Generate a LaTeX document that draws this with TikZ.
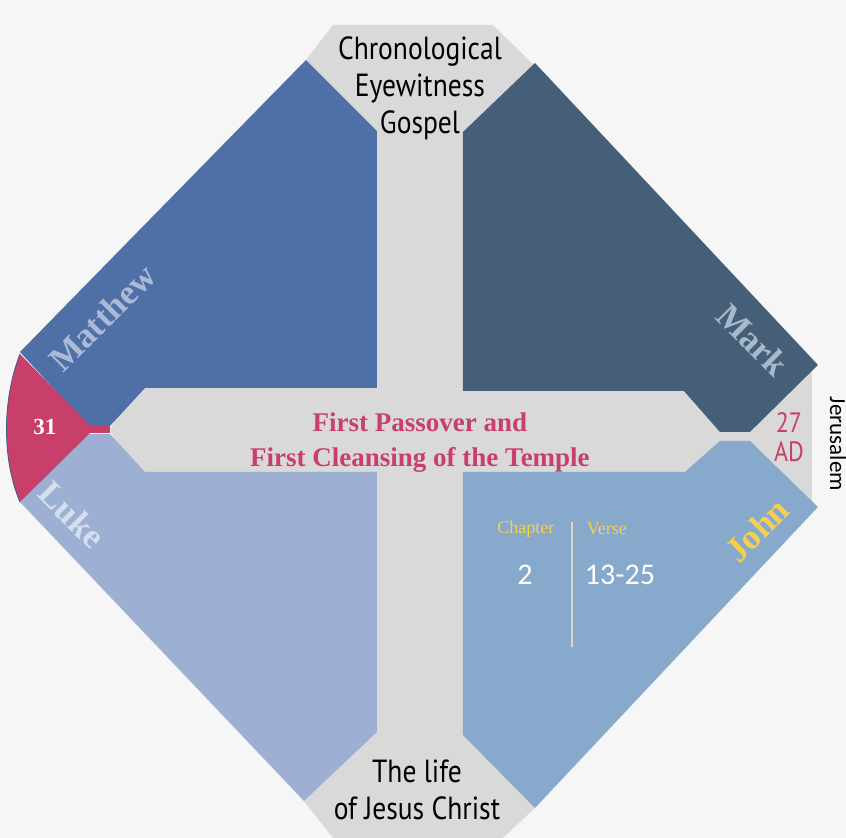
\documentclass[tikz,border=0pt]{standalone}
\usepackage{fontspec}
\usepackage{xcolor}
\usepackage{tikz}
\setmainfont{Liberation Serif}
\newfontfamily\condfont[FakeStretch=0.86]{PT Sans}
\newfontfamily\calfont{Carlito}
\definecolor{bgcol}{HTML}{F6F6F6}
\definecolor{crossgray}{HTML}{D9D9D9}
\definecolor{mattcol}{HTML}{4E70A6}
\definecolor{markcol}{HTML}{445F77}
\definecolor{lukecol}{HTML}{9DB0D4}
\definecolor{johncol}{HTML}{87A9CC}
\definecolor{rosecol}{HTML}{C8406A}
\definecolor{goldcol}{HTML}{F7CF4D}
\definecolor{mattlbl}{HTML}{AABAD7}
\definecolor{marklbl}{HTML}{A9B9CC}
\definecolor{lukelbl}{HTML}{D5DEED}
\definecolor{rulecol}{HTML}{DDD8BD}

\begin{document}
\begin{tikzpicture}[x=1pt,y=-1pt]
  \tikzstyle{quad}=[inner sep=0pt,font=\fontsize{35}{35}\selectfont\bfseries]
  \tikzstyle{capt}=[inner sep=0pt,align=center,font=\condfont\fontsize{32}{37}\selectfont]
  \tikzstyle{small}=[inner sep=0pt,text=goldcol,font=\fontsize{18}{18}\selectfont]
  \tikzstyle{num}=[inner sep=0pt,text=white,font=\calfont\fontsize{30}{30}\selectfont]
  \fill[bgcol] (0,0) rectangle (846,838);
  % grey cross
  \fill[crossgray] (333,25) -- (493,25) -- (535,66) -- (812,366) -- (812,500) -- (535,808)
    -- (503,838) -- (333,838) -- (303,800) -- (110,430) -- (306,60) -- cycle;
  % four gospels
  \fill[mattcol] (306,60) -- (377,131) -- (377,388) -- (145,388) -- (110,426) -- (88,426) -- (20,352) -- cycle;
  \fill[lukecol] (110,434) -- (145,472) -- (377,472) -- (377,732) -- (304,801) -- (20,502) -- (88,434) -- cycle;
  \fill[markcol] (463,132) -- (535,63) -- (818,365) -- (750,432) -- (720,432) -- (684,391) -- (463,391) -- cycle;
  \fill[johncol] (463,472) -- (685,472) -- (720,441) -- (750,441) -- (818,507) -- (535,808) -- (463,735) -- cycle;
  % year wedge
  \fill[rosecol] (20,354) .. controls (2,400) and (2,460) .. (20,502) -- (90,433) -- (110,433) -- (110,426) -- (90,426) -- cycle;
  \draw[mattcol!80!black,line width=0.8pt] (20,354) .. controls (2,400) and (2,460) .. (20,502);
  \foreach \nm/\px/\py/\ang/\col/\txt in {matthew/102/318/45/mattlbl/Matthew,mark/753/340/-45/marklbl/Mark,
    luke/72/515/-45/lukelbl/Luke,john/757/530/45/goldcol/John}
    \node[quad,rotate=\ang,text=\col] (\nm) at (\px,\py) {\txt};
  \node[capt] (topcap) at (420,88) {Chronological\\Eyewitness\\Gospel};
  \node[capt] (botcap) at (417,790) {The life\\of Jesus Christ};
  \node[inner sep=0pt,align=center,text=rosecol,font=\fontsize{27}{35}\selectfont\bfseries] (event) at (420,443)
    {First Passover and\\First Cleansing of the Temple};
  \node[inner sep=0pt,text=white,font=\fontsize{23}{23}\selectfont\bfseries] (year) at (45,427) {31};
  \node[inner sep=0pt,align=center,text=rosecol,font=\condfont\fontsize{28}{29}\selectfont] (date) at (789,437) {27\\AD};
  \node[inner sep=0pt,rotate=-90,font=\calfont\fontsize{23}{23}\selectfont] (place) at (838,444) {Jerusalem};
  \node[small] (chap) at (526,529) {Chapter};
  \node[small] (verse) at (607,529) {Verse};
  \node[num] (chapnum) at (525,575) {2};
  \node[num] (versenum) at (620,575) {13-25};
  \coordinate (ruletop) at (572,522);
  \coordinate (rulebot) at (572,647);
  \draw[rulecol,line width=2pt] (ruletop) -- (rulebot);
\end{tikzpicture}
\end{document}
